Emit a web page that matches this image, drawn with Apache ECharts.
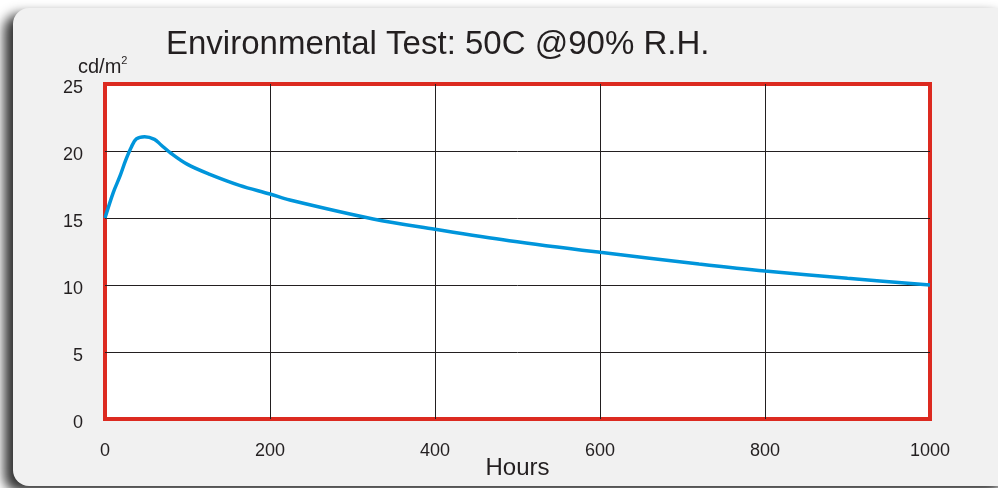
<!DOCTYPE html>
<html>
<head>
<meta charset="utf-8">
<style>
  html, body { margin: 0; padding: 0; background: #ffffff; }
  #chart { width: 998px; height: 488px; }
</style>
<script src="https://cdn.jsdelivr.net/npm/echarts@6/dist/echarts.min.js"></script>
</head>
<body>
<div id="chart"></div>
<script>
// 数据
const hours = [0, 10, 18, 25, 32, 38, 48, 60, 68, 80, 100, 127, 163, 200, 224, 325, 400, 490, 600, 720, 800, 900, 1000];
const luminance = [15, 16.9, 18.1, 19.3, 20.3, 20.9, 21.07, 20.87, 20.45, 19.83, 19.0, 18.26, 17.44, 16.79, 16.34, 14.93, 14.16, 13.31, 12.44, 11.57, 11.04, 10.5, 10.0];
const xTicks = [0, 200, 400, 600, 800, 1000];
const yTicks = [0, 5, 10, 15, 20, 25];

const titleText = 'Environmental Test: 50C @90% R.H.';
const fontFamily = '"Liberation Sans", Arial, sans-serif';

const el = document.getElementById('chart');
const chartInstance = echarts.init(el, null, { renderer: 'canvas' });

function buildOptions() {
  const points = hours.map((h, i) => [h, luminance[i]]);
  const gridLine = { show: true, showMinLine: false, showMaxLine: false, lineStyle: { color: '#231f20', width: 1 } };

  return {
    backgroundColor: '#ffffff',
    animation: false,
    graphic: [
      // 灰色面板
      {
        type: 'rect',
        z: -10,
        shape: { x: 13, y: 8, width: 1000, height: 478, r: 16 },
        style: {
          fill: '#f1f1f1',
          shadowBlur: 12,
          shadowOffsetX: -9,
          shadowOffsetY: 6,
          shadowColor: 'rgba(0,0,0,0.8)',
        },
      },
      {
        type: 'text',
        z: 10,
        style: {
          x: 166,
          y: 45,
          text: titleText,
          font: '33px ' + fontFamily,
          fill: '#231f20',
          verticalAlign: 'middle',
        },
      },
      {
        type: 'text',
        z: 10,
        style: {
          x: 78,
          y: 67,
          text: 'cd/m{sup|2}',
          font: '20px ' + fontFamily,
          fill: '#231f20',
          verticalAlign: 'middle',
          rich: {
            sup: { fontSize: 11, fontFamily: fontFamily, verticalAlign: 'top', padding: [0, 0, 12, 0] },
          },
        },
      },
    ],
    grid: {
      left: 105,
      right: 68,
      top: 84,
      bottom: 69,
      outerBoundsMode: 'none',
      containLabel: false,
      show: true,
      backgroundColor: '#ffffff',
      borderColor: '#dc2a20',
      borderWidth: 4,
      z: 0,
    },
    xAxis: {
      type: 'value',
      z: 3,
      min: xTicks[0],
      max: xTicks[xTicks.length - 1],
      interval: xTicks[1] - xTicks[0],
      name: 'Hours',
      nameLocation: 'middle',
      nameGap: 37,
      nameMoveOverlap: false,
      nameTextStyle: { fontSize: 24, color: '#231f20', fontFamily: fontFamily },
      axisLine: { show: false },
      axisTick: { show: false },
      axisLabel: {
        margin: 23,
        fontSize: 18,
        color: '#231f20',
        fontFamily: fontFamily,
        formatter: (v) => String(v),
      },
      splitLine: gridLine,
    },
    yAxis: {
      type: 'value',
      z: 3,
      min: yTicks[0],
      max: yTicks[yTicks.length - 1],
      interval: yTicks[1] - yTicks[0],
      axisLine: { show: false },
      axisTick: { show: false },
      axisLabel: {
        margin: 22,
        fontSize: 18,
        color: '#231f20',
        fontFamily: fontFamily,
        verticalAlign: 'top',
        lineHeight: 8,
      },
      splitLine: gridLine,
    },
    series: [
      {
        type: 'line',
        data: points,
        smooth: 0.35,
        symbol: 'none',
        z: 5,
        lineStyle: { color: '#0095db', width: 3.5 },
      },
    ],
  };
}

chartInstance.setOption(buildOptions());
window.addEventListener('resize', () => chartInstance.resize());
</script>
</body>
</html>
